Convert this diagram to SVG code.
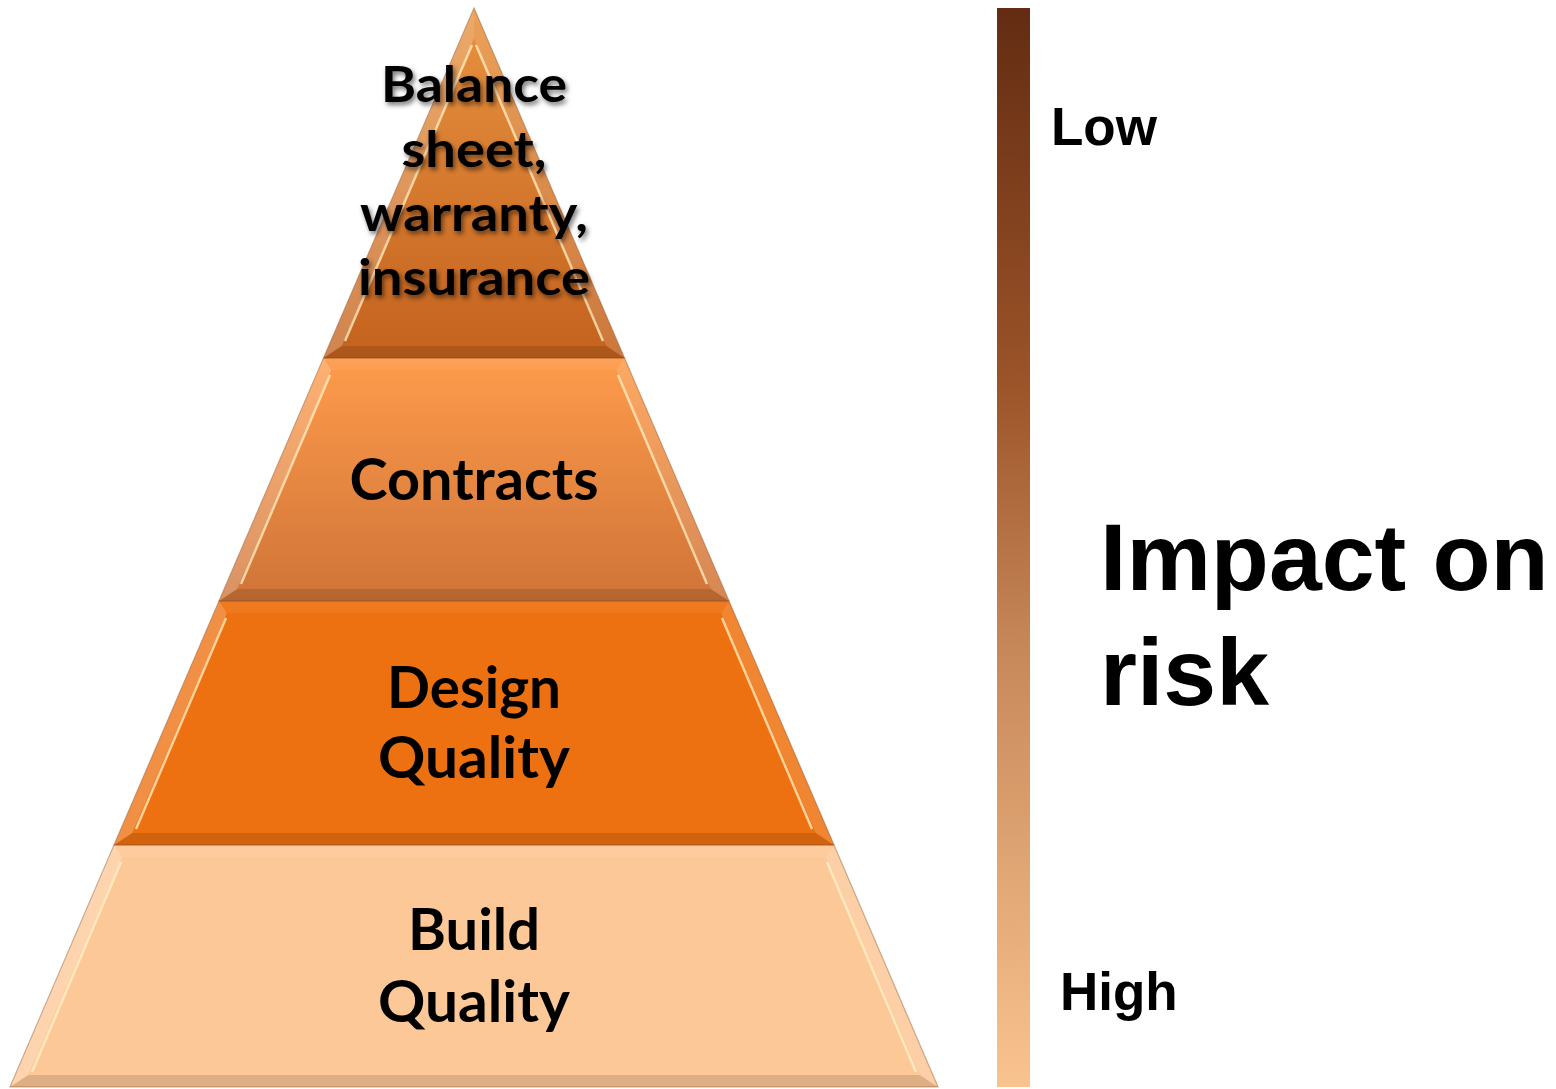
<svg xmlns="http://www.w3.org/2000/svg" width="1556" height="1089" viewBox="0 0 1556 1089">
<defs>
<linearGradient id="g1" x1="0" y1="0" x2="0" y2="1"><stop offset="0" stop-color="#E8923F"/><stop offset="1" stop-color="#C4621E"/></linearGradient>
<linearGradient id="g2" x1="0" y1="0" x2="0" y2="1"><stop offset="0" stop-color="#FE9B4B"/><stop offset="1" stop-color="#CF7438"/></linearGradient>
<linearGradient id="bar" x1="0" y1="0" x2="0" y2="1"><stop offset="0" stop-color="#632C12"/><stop offset="0.35" stop-color="#9C5429"/><stop offset="0.6" stop-color="#C8895A"/><stop offset="1" stop-color="#F9C38F"/></linearGradient>
<filter id="sh" x="-20%" y="-20%" width="140%" height="140%"><feDropShadow dx="2" dy="3" stdDeviation="2.5" flood-color="#000" flood-opacity="0.55"/></filter>
</defs>
<style>
.outer{stroke:#8a4a1c;stroke-opacity:0.45;stroke-width:1.2}
.bl{fill:#fff;fill-opacity:0.22}
.br{fill:#fff;fill-opacity:0.14}
.bt{fill:#fff;fill-opacity:0.06}
.bb{fill:#000;fill-opacity:0.12}
.hl{fill:none;stroke:#FFF3C8;stroke-opacity:0.75;stroke-width:2.5}
.pt{font-family:Lato,"Liberation Sans",sans-serif;font-weight:bold;fill:#000;text-anchor:middle}
.rt{font-family:"Liberation Sans",Arial,sans-serif;font-weight:bold;fill:#000}
</style>
<rect width="1556" height="1089" fill="#fff"/>

<g id="tier4">
<polygon class="outer" points="114,845 834,845 938,1087 10,1087" fill="#FDC898"/>
<polygon class="bl" points="114,845 121.9,857 28.2,1075 10,1087"/>
<polygon class="bt" points="114,845 834,845 826.1,857 121.9,857"/>
<polygon class="br" points="834,845 938,1087 919.8,1075 826.1,857"/>
<polygon class="bb" points="10,1087 28.2,1075 919.8,1075 938,1087"/>
<polyline class="hl" points="121,862 32,1072"/>
<polyline class="hl" points="827,862 916,1072"/>
<text class="pt" x="474" y="950" font-size="58" textLength="132" lengthAdjust="spacingAndGlyphs">Build</text>
<text class="pt" x="474" y="1022" font-size="58" textLength="192" lengthAdjust="spacingAndGlyphs">Quality</text>
</g>

<g id="tier3">
<polygon class="outer" points="219,601 729,601 834,845 114,845" fill="#EE7111"/>
<polygon class="bl" points="219,601 226.8,613 132.2,833 114,845"/>
<polygon class="bt" points="219,601 729,601 721.2,613 226.8,613"/>
<polygon class="br" points="729,601 834,845 815.8,833 721.2,613"/>
<polygon class="bb" points="114,845 132.2,833 815.8,833 834,845"/>
<polyline class="hl" points="226,618 136,829"/>
<polyline class="hl" points="722,618 812,829"/>
<text class="pt" x="474" y="708" font-size="58" textLength="174" lengthAdjust="spacingAndGlyphs">Design</text>
<text class="pt" x="474" y="778" font-size="58" textLength="192" lengthAdjust="spacingAndGlyphs">Quality</text>
</g>

<g id="tier2">
<polygon class="outer" points="323.5,358 624.5,358 729,601 219,601" fill="url(#g2)"/>
<polygon class="bl" points="323.5,358 331.3,370 237.2,589 219,601"/>
<polygon class="bt" points="323.5,358 624.5,358 616.7,370 331.3,370"/>
<polygon class="br" points="624.5,358 729,601 710.8,589 616.7,370"/>
<polygon class="bb" points="219,601 237.2,589 710.8,589 729,601"/>
<polyline class="hl" points="330,375 241,584"/>
<polyline class="hl" points="618,375 707,584"/>
<text class="pt" x="474" y="500" font-size="58" textLength="249" lengthAdjust="spacingAndGlyphs">Contracts</text>
</g>

<g id="tier1">
<polygon class="outer" points="474,8 624.5,358 323.5,358" fill="url(#g1)"/>
<polygon class="bl" points="474,8 474,38 341.7,346 323.5,358"/>
<polygon class="br" points="474,8 624.5,358 606.3,346 474,38"/>
<polygon class="bb" points="323.5,358 341.7,346 606.3,346 624.5,358"/>
<polyline class="hl" points="472,45 345,341"/>
<polyline class="hl" points="476,45 603,341"/>
<g filter="url(#sh)">
<text class="pt" x="474" y="102" font-size="50" textLength="186" lengthAdjust="spacingAndGlyphs">Balance</text>
<text class="pt" x="474" y="167" font-size="50" textLength="145" lengthAdjust="spacingAndGlyphs">sheet,</text>
<text class="pt" x="474" y="231" font-size="50" textLength="228" lengthAdjust="spacingAndGlyphs">warranty,</text>
<text class="pt" x="474" y="295" font-size="50" textLength="232" lengthAdjust="spacingAndGlyphs">insurance</text>
</g>
</g>

<g id="scale">
<rect x="997" y="8" width="33" height="1079" fill="url(#bar)"/>
<text class="rt" x="1051" y="145" font-size="53">Low</text>
<text class="rt" x="1060" y="1010" font-size="53">High</text>
</g>

<g id="title">
<text class="rt" x="1100" y="590" font-size="95">Impact on</text>
<text class="rt" x="1100" y="705" font-size="95">risk</text>
</g>
<g id="connectors"/>
</svg>
